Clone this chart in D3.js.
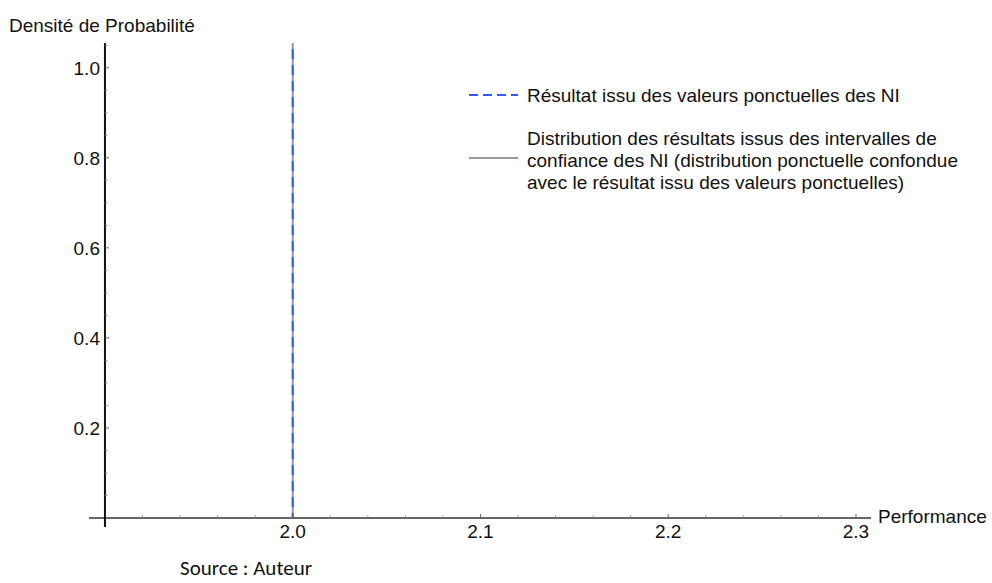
<!DOCTYPE html>
<html>
<head>
<meta charset="utf-8">
<script src="https://cdn.jsdelivr.net/npm/d3@7"></script>
<style>
  html, body { margin: 0; padding: 0; background: #fff; }
  svg { display: block; font-family: "Liberation Sans", Arial, sans-serif; }
</style>
</head>
<body>
<div id="chart"></div>
<script>
// values
const xDomain = [1.8915, 2.308];
const yDomain = [-0.02, 1.055];
const origin = { x: 1.9, y: 0 };
const xMajor = [2.0, 2.1, 2.2, 2.3];
const xMinor = [1.92, 1.94, 1.96, 1.98, 2.02, 2.04, 2.06, 2.08, 2.12, 2.14, 2.16, 2.18, 2.22, 2.24, 2.26, 2.28];
const yMajor = [0.2, 0.4, 0.6, 0.8, 1.0];
const yMinor = [0.05, 0.1, 0.15, 0.25, 0.3, 0.35, 0.45, 0.5, 0.55, 0.65, 0.7, 0.75, 0.85, 0.9, 0.95, 1.05];
const pointResult = [{ x: 2.0, y: 0 }, { x: 2.0, y: 1.055 }];
const distribution = [{ x: 2.0, y: 0 }, { x: 2.0, y: 1.055 }];
const legendItems = [
  { lines: ["Résultat issu des valeurs ponctuelles des NI"], color: "#2d5bff", dash: "9 5" },
  {
    lines: [
      "Distribution des résultats issus des intervalles de",
      "confiance des NI (distribution ponctuelle confondue",
      "avec le résultat issu des valeurs ponctuelles)",
    ],
    color: "#999999",
    dash: null,
  },
];

const width = 992;
const height = 583;
const fontSize = 19;
const svg = d3.select("#chart").append("svg").attr("width", width).attr("height", height);

const x = d3.scaleLinear().domain(xDomain).range([89, 871]);
const y = d3.scaleLinear().domain(yDomain).range([527, 43]);

// distribution (gray) under the dashed point result (blue)
const line = d3.line().x((d) => x(d.x)).y((d) => y(d.y));
svg.append("path").datum(distribution).attr("d", line).attr("fill", "none").attr("stroke", "#999999").attr("stroke-width", 2);
svg.append("path").datum(pointResult).attr("d", line).attr("fill", "none").attr("stroke", "#2d5bff").attr("stroke-width", 2).attr("stroke-dasharray", "10 6").attr("stroke-dashoffset", 5);

// x axis
const x0 = y(origin.y);
svg.append("line").attr("x1", x(xDomain[0])).attr("x2", x(xDomain[1])).attr("y1", x0).attr("y2", x0).attr("stroke", "#666").attr("stroke-width", 2);
svg.append("g").selectAll("line").data(xMajor).enter().append("line")
  .attr("x1", (d) => x(d)).attr("x2", (d) => x(d)).attr("y1", x0).attr("y2", x0 - 4).attr("stroke", "#666").attr("stroke-width", 1);
svg.append("g").selectAll("line").data(xMinor).enter().append("line")
  .attr("x1", (d) => x(d)).attr("x2", (d) => x(d)).attr("y1", x0).attr("y2", x0 - 2.5).attr("stroke", "#888").attr("stroke-width", 1);
svg.append("g").selectAll("text").data(xMajor).enter().append("text")
  .attr("x", (d) => x(d)).attr("y", x0 + 20).attr("text-anchor", "middle").attr("font-size", fontSize).attr("fill", "#111")
  .text((d) => d3.format(".1f")(d));

// y axis
const y0 = x(origin.x);
svg.append("line").attr("x1", y0).attr("x2", y0).attr("y1", y(yDomain[0])).attr("y2", y(yDomain[1])).attr("stroke", "#111").attr("stroke-width", 2);
svg.append("g").selectAll("line").data(yMajor).enter().append("line")
  .attr("x1", y0).attr("x2", y0 + 4).attr("y1", (d) => y(d)).attr("y2", (d) => y(d)).attr("stroke", "#666").attr("stroke-width", 1);
svg.append("g").selectAll("line").data(yMinor).enter().append("line")
  .attr("x1", y0).attr("x2", y0 + 2.5).attr("y1", (d) => y(d)).attr("y2", (d) => y(d)).attr("stroke", "#888").attr("stroke-width", 1);
svg.append("g").selectAll("text").data(yMajor).enter().append("text")
  .attr("x", y0 - 5).attr("y", (d) => y(d) + 7).attr("text-anchor", "end").attr("font-size", fontSize).attr("fill", "#111")
  .text((d) => d3.format(".1f")(d));

// axis titles
svg.append("text").attr("x", 9).attr("y", 32).attr("font-size", fontSize).attr("fill", "#111").text("Densité de Probabilité");
svg.append("text").attr("x", 878).attr("y", x0 + 5).attr("font-size", fontSize).attr("fill", "#111").text("Performance");

// legend
const legend = svg.append("g");
const legendRows = [{ mid: 95, base: 102 }, { mid: 158, base: 145 }];
legendItems.forEach((item, i) => {
  const row = legendRows[i];
  legend.append("line").attr("x1", 469).attr("x2", 518).attr("y1", row.mid).attr("y2", row.mid)
    .attr("stroke", item.color).attr("stroke-width", 2).attr("stroke-dasharray", item.dash);
  item.lines.forEach((t, j) => {
    legend.append("text").attr("x", 527).attr("y", row.base + j * 22).attr("font-size", fontSize).attr("fill", "#111").text(t);
  });
});

// source
svg.append("text").attr("x", 180).attr("y", 575).attr("font-family", "Carlito, 'Open Sans', sans-serif").attr("font-size", 21).attr("fill", "#111").text("Source : Auteur");
</script>
</body>
</html>
